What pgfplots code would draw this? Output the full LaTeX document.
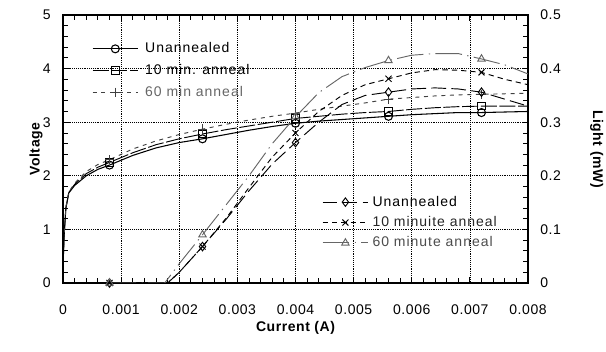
\documentclass[border=0pt]{standalone}
\usepackage{fontspec}
\setmainfont{Liberation Sans}[LetterSpace=4]
\usepackage{pgfplots}
\usepackage{pgfplotstable}
\pgfplotsset{compat=1.18}

\pgfplotstableread{
x v
0 0.3
0.00002 0.9
0.00005 1.4
0.0001 1.68
0.0002 1.82
0.0004 2.0
0.0006 2.12
0.0008 2.2
0.0012 2.38
0.0016 2.52
0.002 2.62
0.0024 2.69
0.0028 2.77
0.0032 2.85
0.0036 2.92
0.004 2.98
0.0044 3.02
0.0048 3.05
0.0052 3.08
0.0056 3.11
0.006 3.14
0.0064 3.16
0.0068 3.18
0.0072 3.18
0.0076 3.19
0.008 3.2
}\vUn
\pgfplotstableread{
x v
0 0.3
0.00002 0.9
0.00005 1.4
0.0001 1.69
0.0002 1.84
0.0004 2.04
0.0006 2.16
0.0008 2.25
0.0012 2.43
0.0016 2.58
0.002 2.69
0.0024 2.78
0.0028 2.86
0.0032 2.93
0.0036 3.0
0.004 3.07
0.0044 3.11
0.0048 3.15
0.0052 3.18
0.0056 3.2
0.006 3.24
0.0064 3.27
0.0068 3.29
0.0072 3.3
0.0076 3.3
0.008 3.3
}\vTen
\pgfplotstableread{
x v
0 0.3
0.00002 0.9
0.00005 1.42
0.0001 1.7
0.0002 1.86
0.0004 2.08
0.0006 2.21
0.0008 2.3
0.0012 2.5
0.0016 2.65
0.002 2.77
0.0024 2.87
0.0028 2.96
0.0032 3.04
0.0036 3.11
0.004 3.17
0.0044 3.24
0.0048 3.3
0.0052 3.36
0.0056 3.43
0.006 3.46
0.0064 3.49
0.0068 3.51
0.0072 3.52
0.0076 3.53
0.008 3.54
}\vSixty
\pgfplotstableread{
x l
0.0008 0
0.0012 0
0.0018 0
0.002 0.02
0.0024 0.068
0.0028 0.118
0.0032 0.172
0.0036 0.222
0.004 0.262
0.0044 0.3
0.0048 0.333
0.0052 0.35
0.0056 0.356
0.006 0.362
0.0064 0.364
0.0068 0.362
0.0072 0.356
0.0076 0.343
0.008 0.33
}\lUn
\pgfplotstableread{
x l
0.0008 0
0.0012 0
0.0018 0
0.002 0.02
0.0024 0.068
0.0028 0.12
0.0032 0.178
0.0036 0.235
0.004 0.28
0.0044 0.32
0.0048 0.35
0.0052 0.37
0.0056 0.381
0.006 0.392
0.0064 0.398
0.0068 0.397
0.0072 0.393
0.0076 0.38
0.008 0.37
}\lTen
\pgfplotstableread{
x l
0.0008 0
0.0012 0
0.00175 0
0.002 0.036
0.0024 0.09
0.0028 0.145
0.0032 0.2
0.0036 0.26
0.004 0.31
0.0044 0.355
0.0048 0.385
0.0052 0.402
0.0056 0.415
0.006 0.425
0.0064 0.428
0.0068 0.428
0.0072 0.418
0.0076 0.407
0.008 0.39
}\lSixty

\pgfplotsset{
  base/.style={
    scale only axis, width=348.75pt, height=201pt,
    at={(0,0)}, anchor=south west,
    xmin=0, xmax=0.008,
    tick align=inside,
    major tick length=4.5pt, minor tick length=3.5pt,
    every tick/.style={black, line width=0.6pt},
    axis line style={line width=0.8pt},
    /pgf/number format/assume math mode=true,
    font=\fontsize{10.5}{12.5}\selectfont,
    legend cell align=left,
    legend image code/.code={\draw[mark indices={2}] plot coordinates {(0pt,0pt) (17pt,0pt) (34pt,0pt)};},
  },
}

\begin{document}
\begin{tikzpicture}
\begin{axis}[base,
  ymin=0, ymax=5,
  xtick={0,0.001,...,0.008},
  ytick={0,1,...,5},
  minor x tick num=4, minor y tick num=4,
  xtick pos=both, ytick pos=left,
  scaled x ticks=false,
  xticklabel style={/pgf/number format/fixed, /pgf/number format/precision=3, anchor=north, inner sep=0pt, yshift=-16pt},
  yticklabel style={anchor=east, inner sep=0pt, xshift=-9pt},
  grid=major,
  major grid style={densely dotted, black, line width=0.5pt},
  xlabel={\bfseries Current (A)},
  xlabel style={at={(axis description cs:0.5,0)}, anchor=center, yshift=-34pt},
  ylabel={\bfseries Voltage},
  ylabel style={at={(axis description cs:-0.058,0.5)}, anchor=center},
  legend style={at={(axis description cs:0.062,0.907)}, anchor=north west, draw=none, fill=none,
    inner sep=0pt, row sep=3.3pt, nodes={inner sep=1.5pt, text height=8pt, text depth=2pt},
    /tikz/every odd column/.append style={column sep=3.5pt},
    font=\fontsize{10.5}{12.5}\selectfont\addfontfeatures{LetterSpace=7}},
]
\addplot[black, line width=0.8pt, mark=o, mark size=3pt, mark options={solid, fill=white}, mark indices={8,12,16,20,24}] table[x=x,y=v] {\vUn};
\addlegendentry{Unannealed}
\addplot[black, line width=0.7pt, dash pattern=on 12pt off 2pt, mark=square, mark size=2.8pt, mark options={solid, fill=white}, mark indices={8,12,16,20,24}] table[x=x,y=v] {\vTen};
\addlegendentry{10 min. anneal}
\addplot[black!75, line width=0.7pt, dash pattern=on 3pt off 3.5pt, mark=+, mark size=3.5pt, mark options={solid}, mark indices={8,12,16,20,24}] table[x=x,y=v] {\vSixty};
\addlegendentry{\textcolor{black!60}{60 min anneal}}
\end{axis}

\begin{axis}[base,
  ymin=0, ymax=0.5,
  hide x axis,
  ytick={0,0.1,...,0.5},
  minor y tick num=4,
  ytick pos=right,
  yticklabel pos=right,
  yticklabel style={/pgf/number format/fixed, /pgf/number format/precision=1, anchor=west, inner sep=0pt, xshift=9pt},
  ylabel={\bfseries Light (mW)},
  ylabel style={at={(axis description cs:1.148,0.5)}, anchor=center, rotate=180},
  legend style={at={(axis description cs:0.557,0.335)}, anchor=north west, draw=none, fill=none,
    inner sep=0pt, row sep=2.3pt, nodes={inner sep=1.5pt, text height=8pt, text depth=2pt},
    /tikz/every odd column/.append style={column sep=1.5pt},
    font=\fontsize{10.5}{12.5}\selectfont\addfontfeatures{LetterSpace=7}},
]
\addplot[black, line width=0.7pt, dash pattern=on 11pt off 4pt, mark=diamond, mark size=3.2pt, mark options={solid, fill=white}, mark indices={1,5,9,13,17}] table[x=x,y=l] {\lUn};
\addlegendentry{Unannealed}
\addplot[black, line width=0.7pt, dash pattern=on 4pt off 3pt, mark=x, mark size=3.2pt, mark options={solid}, mark indices={1,5,9,13,17}] table[x=x,y=l] {\lTen};
\addlegendentry{\textcolor{black!85}{10 minuite anneal}}
\addplot[black!60, line width=0.7pt, dash pattern=on 20pt off 4pt on 1pt off 4pt, mark=triangle, mark size=3.2pt, mark options={solid, fill=white}, mark indices={1,5,9,13,17}] table[x=x,y=l] {\lSixty};
\addlegendentry{\textcolor{black!70}{60 minute anneal}}
\end{axis}
\pgfresetboundingbox
\useasboundingbox (-47.25pt,-51.75pt) rectangle (407.25pt,212.25pt);
\end{tikzpicture}
\end{document}
